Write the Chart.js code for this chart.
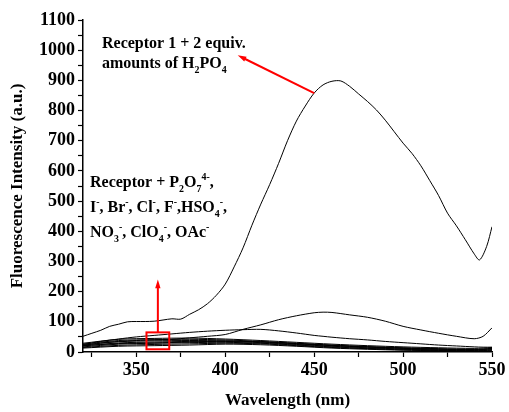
<!DOCTYPE html>
<html>
<head>
<meta charset="utf-8">
<script src="https://cdn.jsdelivr.net/npm/chart.js@4/dist/chart.umd.min.js"></script>
<style>
  body { margin: 0; background: #fff; }
  #wrap { width: 509px; height: 412px; }
</style>
</head>
<body>
<div id="wrap"><canvas id="chart" width="509" height="412"></canvas></div>
<script>
// data
var wlMain = [320, 325, 330, 335, 340, 345, 350, 355, 360, 365, 370, 375, 380, 385, 390, 395,
  400, 405, 410, 415, 420, 425, 430, 435, 440, 445, 450, 455, 460, 465, 470, 475, 480, 485,
  490, 495, 500, 505, 510, 515, 520, 525, 530, 535, 540, 543, 547, 550];
var h2po4 = [52, 62, 72, 85, 92, 100, 101, 101, 102, 106, 110, 109, 125, 140, 160, 188,
  225, 282, 345, 420, 490, 555, 625, 700, 765, 815, 858, 885, 897, 898, 880, 855, 830, 802,
  768, 730, 692, 658, 617, 568, 518, 460, 418, 372, 325, 305, 350, 415];

var wlMid = [320, 330, 340, 350, 360, 370, 380, 390, 400, 410, 420, 430, 440, 450, 455, 460,
  470, 480, 490, 500, 510, 520, 530, 540, 545, 550];
var secondCurve = [22, 30, 35, 38, 40, 42, 47, 52, 58, 75, 90, 107, 120, 130, 132, 131,
  123, 115, 102, 85, 73, 62, 52, 44, 52, 80];
var thirdCurve = [25, 35, 43, 50, 55, 60, 65, 69, 72, 74, 75, 70, 63, 55, 52, 49,
  44, 40, 35, 31, 27, 23, 20, 17, 16, 16];

var wlLow = [320, 340, 360, 380, 400, 420, 440, 460, 480, 500, 520, 540, 550];
var others = [
  [29, 42, 45, 46, 43, 38, 32, 26, 21, 17, 14, 12, 15],
  [26, 38, 41, 42, 40, 35, 29, 23, 18, 14, 11, 9, 12],
  [23, 34, 37, 38, 37, 33, 27, 21, 16, 12, 9, 7, 10],
  [20, 30, 33, 35, 35, 31, 25, 19, 14, 10, 7, 5, 8],
  [17, 26, 29, 31, 32, 29, 23, 17, 12, 9, 6, 4, 6],
  [15, 22, 25, 27, 29, 27, 21, 15, 11, 7, 5, 3, 4],
  [13, 19, 21, 23, 26, 24, 19, 13, 9, 6, 4, 2, 3],
  [21, 28, 30, 33, 36, 34, 28, 22, 17, 13, 10, 8, 11]
];

var xTicks = [325, 350, 375, 400, 425, 450, 475, 500, 525, 550];

var serif = "'Liberation Serif', 'Times New Roman', serif";

function pts(xs, ys) {
  return xs.map(function(x, i) { return { x: x, y: ys[i] }; });
}

function lineSet(xs, ys) {
  return {
    data: pts(xs, ys),
    borderColor: "#000",
    borderWidth: 1,
    pointRadius: 0,
    fill: false,
    tension: 0.3
  };
}

var datasets = [lineSet(wlMain, h2po4), lineSet(wlMid, secondCurve), lineSet(wlMid, thirdCurve)];
others.forEach(function(s) { datasets.push(lineSet(wlLow, s)); });

// draw a line of text made of [text, shift] pieces, shift: 0 normal, 1 sub, -1 sup
function richText(ctx, parts, x, y, size) {
  parts.forEach(function(p) {
    var fs = p[1] === 0 ? size : size * 0.62;
    ctx.font = "bold " + fs + "px " + serif;
    var dy = p[1] === 1 ? size * 0.3 : (p[1] === -1 ? -size * 0.42 : 0);
    ctx.fillText(p[0], x, y + dy);
    x += ctx.measureText(p[0]).width;
  });
}

function arrow(ctx, x1, y1, x2, y2) {
  var a = Math.atan2(y2 - y1, x2 - x1);
  var len = 9;
  ctx.beginPath();
  ctx.moveTo(x1, y1);
  ctx.lineTo(x2 - Math.cos(a) * len * 0.8, y2 - Math.sin(a) * len * 0.8);
  ctx.stroke();
  ctx.beginPath();
  ctx.moveTo(x2, y2);
  ctx.lineTo(x2 - len * Math.cos(a - 0.3), y2 - len * Math.sin(a - 0.3));
  ctx.lineTo(x2 - len * Math.cos(a + 0.3), y2 - len * Math.sin(a + 0.3));
  ctx.closePath();
  ctx.fill();
}

var notes = {
  id: "notes",
  afterDatasetsDraw: function(chart) {
    var ctx = chart.ctx;
    var xs = chart.scales.x, ys = chart.scales.y;
    ctx.save();
    ctx.fillStyle = "#000";
    ctx.textBaseline = "alphabetic";
    ctx.textAlign = "left";

    richText(ctx, [["Receptor 1 + 2 equiv.", 0]], 102, 48, 16);
    richText(ctx, [["amounts of H", 0], ["2", 1], ["PO", 0], ["4", 1]], 102, 68, 16);

    richText(ctx, [["Receptor + P", 0], ["2", 1], ["O", 0], ["7", 1], ["4-", -1], [",", 0]], 90, 187, 16);
    richText(ctx, [["I", 0], ["-", -1], [", Br", 0], ["-", -1], [", Cl", 0], ["-", -1], [", F", 0], ["-", -1],
      [",HSO", 0], ["4", 1], ["-", -1], [",", 0]], 90, 212, 16);
    richText(ctx, [["NO", 0], ["3", 1], ["-", -1], [", ClO", 0], ["4", 1], ["-", -1], [", OAc", 0], ["-", -1]], 90, 237, 16);

    ctx.strokeStyle = "#ff0000";
    ctx.fillStyle = "#ff0000";
    ctx.lineWidth = 2;
    // arrow from the peak to the label
    arrow(ctx, xs.getPixelForValue(450), ys.getPixelForValue(858),
      xs.getPixelForValue(407), ys.getPixelForValue(983));
    // box on the low curves and the arrow up to the label
    var bx1 = xs.getPixelForValue(355.7), bx2 = xs.getPixelForValue(368.5);
    var by1 = ys.getPixelForValue(65), by2 = ys.getPixelForValue(9);
    ctx.strokeRect(bx1, by1, bx2 - bx1, by2 - by1);
    arrow(ctx, (bx1 + bx2) / 2, by1, (bx1 + bx2) / 2, ys.getPixelForValue(240));
    ctx.restore();
  }
};

new Chart(document.getElementById("chart"), {
  type: "line",
  data: { datasets: datasets },
  plugins: [notes],
  options: {
    responsive: false,
    animation: false,
    layout: { padding: { top: 20, right: 17, left: 0, bottom: 0 } },
    plugins: { legend: { display: false }, tooltip: { enabled: false } },
    scales: {
      x: {
        type: "linear",
        min: 320,
        max: 550,
        afterBuildTicks: function(scale) {
          scale.ticks = xTicks.map(function(v) { return { value: v }; });
        },
        afterFit: function(scale) { scale.height = 60; },
        ticks: {
          color: "#000",
          padding: 3,
          maxRotation: 0,
          autoSkip: false,
          font: { family: serif, size: 18, weight: "bold" },
          callback: function(v) { return v % 50 === 0 ? v : ""; }
        },
        grid: { drawOnChartArea: false, color: "#000", tickLength: 5, tickWidth: 1.2 },
        border: { display: true, color: "#000", width: 1.5 },
        title: {
          display: true,
          text: "Wavelength (nm)",
          color: "#000",
          padding: { top: 0, bottom: 1 },
          font: { family: serif, size: 17, weight: "bold" }
        }
      },
      y: {
        min: 0,
        max: 1100,
        afterFit: function(scale) { scale.width = 83; },
        ticks: {
          stepSize: 50,
          color: "#000",
          padding: 3,
          autoSkip: false,
          font: { family: serif, size: 18, weight: "bold" },
          callback: function(v) { return v % 100 === 0 ? v : ""; }
        },
        grid: { drawOnChartArea: false, color: "#000", tickLength: 5, tickWidth: 1.2 },
        border: { display: true, color: "#000", width: 1.5 },
        title: {
          display: true,
          text: "Fluorescence Intensity (a.u.)",
          color: "#000",
          padding: { top: 7, bottom: 0 },
          font: { family: serif, size: 17, weight: "bold" }
        }
      }
    }
  }
});
</script>
</body>
</html>
